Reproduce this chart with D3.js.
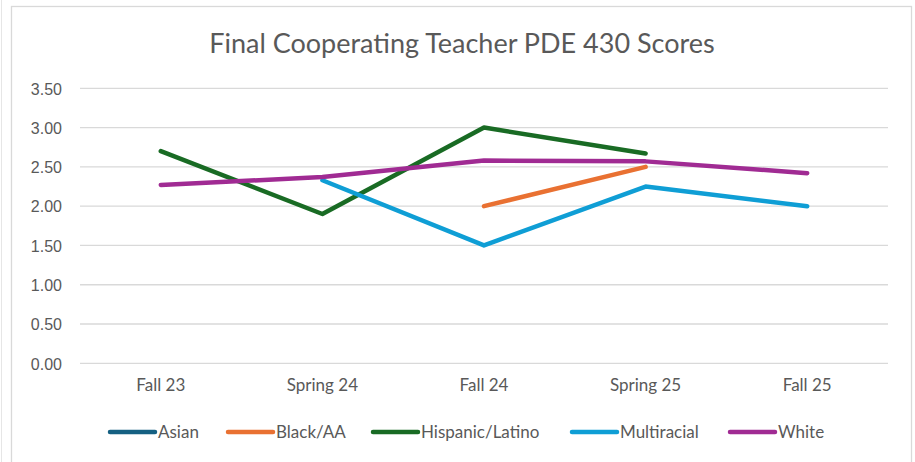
<!DOCTYPE html>
<html>
<head>
<meta charset="utf-8">
<script src="https://d3js.org/d3.v7.min.js"></script>
<style>
  body { margin: 0; background: #fff; }
  svg { display: block; }
  .grid line { stroke: #d9d9d9; stroke-width: 1.3; }
  .ylab text { font-family: "Liberation Sans", Arial, sans-serif; font-size: 16px; fill: #595959; }
  .xlab text { font-family: Lato, "Open Sans", sans-serif; font-size: 17px; fill: #595959; }
  .title { font-family: Lato, "Open Sans", sans-serif; font-size: 27px; fill: #595959; }
  .legend text { font-family: Lato, "Open Sans", sans-serif; font-size: 17px; fill: #595959; }
</style>
</head>
<body>
<svg width="915" height="462"></svg>
<script>
// donnees
var periodes = ["Fall 23", "Spring 24", "Fall 24", "Spring 25", "Fall 25"];
var groupes = ["Asian", "Black/AA", "Hispanic/Latino", "Multiracial", "White"];
var couleurs = ["#156082", "#E97132", "#196B24", "#0F9ED5", "#A02B93"];
var asian = [null, null, null, null, null];
var black = [null, null, 2.00, 2.50, null];
var hispanic = [2.70, 1.90, 3.00, 2.67, null];
var multiracial = [null, 2.33, 1.50, 2.25, 2.00];
var white = [2.27, 2.37, 2.58, 2.57, 2.42];
var yTicks = [0, 0.5, 1, 1.5, 2, 2.5, 3, 3.5];

var series = [asian, black, hispanic, multiracial, white];

var svg = d3.select("svg");

// cadre du graphique
svg.append("rect")
  .attr("x", 11.5).attr("y", 6.5)
  .attr("width", 900).attr("height", 470)
  .attr("fill", "none").attr("stroke", "#d9d9d9").attr("stroke-width", 1.3);
svg.append("line")
  .attr("x1", 1.5).attr("x2", 1.5).attr("y1", 0).attr("y2", 462)
  .attr("stroke", "#e6e6e6");

var x = d3.scaleBand()
  .domain(periodes)
  .range([80, 888]);

var y = d3.scaleLinear()
  .domain([0, 3.5])
  .range([363.3, 88.3]);

svg.append("text")
  .attr("class", "title")
  .attr("x", 462).attr("y", 53)
  .attr("text-anchor", "middle")
  .text("Final Cooperating Teacher PDE 430 Scores");

// lignes de grille
svg.append("g").attr("class", "grid")
  .selectAll("line")
  .data(yTicks)
  .enter().append("line")
  .attr("x1", 80).attr("x2", 888)
  .attr("y1", function(d) { return y(d); })
  .attr("y2", function(d) { return y(d); });

var yAxis = d3.axisLeft(y)
  .tickValues(yTicks)
  .tickSize(0)
  .tickPadding(18)
  .tickFormat(d3.format(".2f"));

svg.append("g").attr("class", "ylab")
  .attr("transform", "translate(80,0)")
  .call(yAxis)
  .call(function(g) { g.select(".domain").remove(); })
  .selectAll("text").attr("dy", "0.36em");

var xAxis = d3.axisBottom(x)
  .tickSize(0)
  .tickPadding(16);

svg.append("g").attr("class", "xlab")
  .attr("transform", "translate(0,363.3)")
  .call(xAxis)
  .call(function(g) { g.select(".domain").remove(); })
  .selectAll("text").attr("dy", "0.71em");

var ligne = d3.line()
  .defined(function(d) { return d != null; })
  .x(function(d, i) { return x(periodes[i]) + x.bandwidth() / 2; })
  .y(function(d) { return y(d); });

svg.append("g")
  .selectAll("path")
  .data(series)
  .enter().append("path")
  .attr("d", ligne)
  .attr("fill", "none")
  .attr("stroke", function(d, i) { return couleurs[i]; })
  .attr("stroke-width", 4.5)
  .attr("stroke-linecap", "round")
  .attr("stroke-linejoin", "round");

// legende
var legX = [110, 228, 373, 572, 730];
var leg = svg.append("g").attr("class", "legend")
  .selectAll("g")
  .data(groupes)
  .enter().append("g")
  .attr("transform", function(d, i) { return "translate(" + legX[i] + ",432)"; });

leg.append("line")
  .attr("x1", 0).attr("x2", 45)
  .attr("stroke", function(d, i) { return couleurs[i]; })
  .attr("stroke-width", 4.5)
  .attr("stroke-linecap", "round");

leg.append("text")
  .attr("x", 48).attr("dy", "0.35em")
  .text(function(d) { return d; });
</script>
</body>
</html>
